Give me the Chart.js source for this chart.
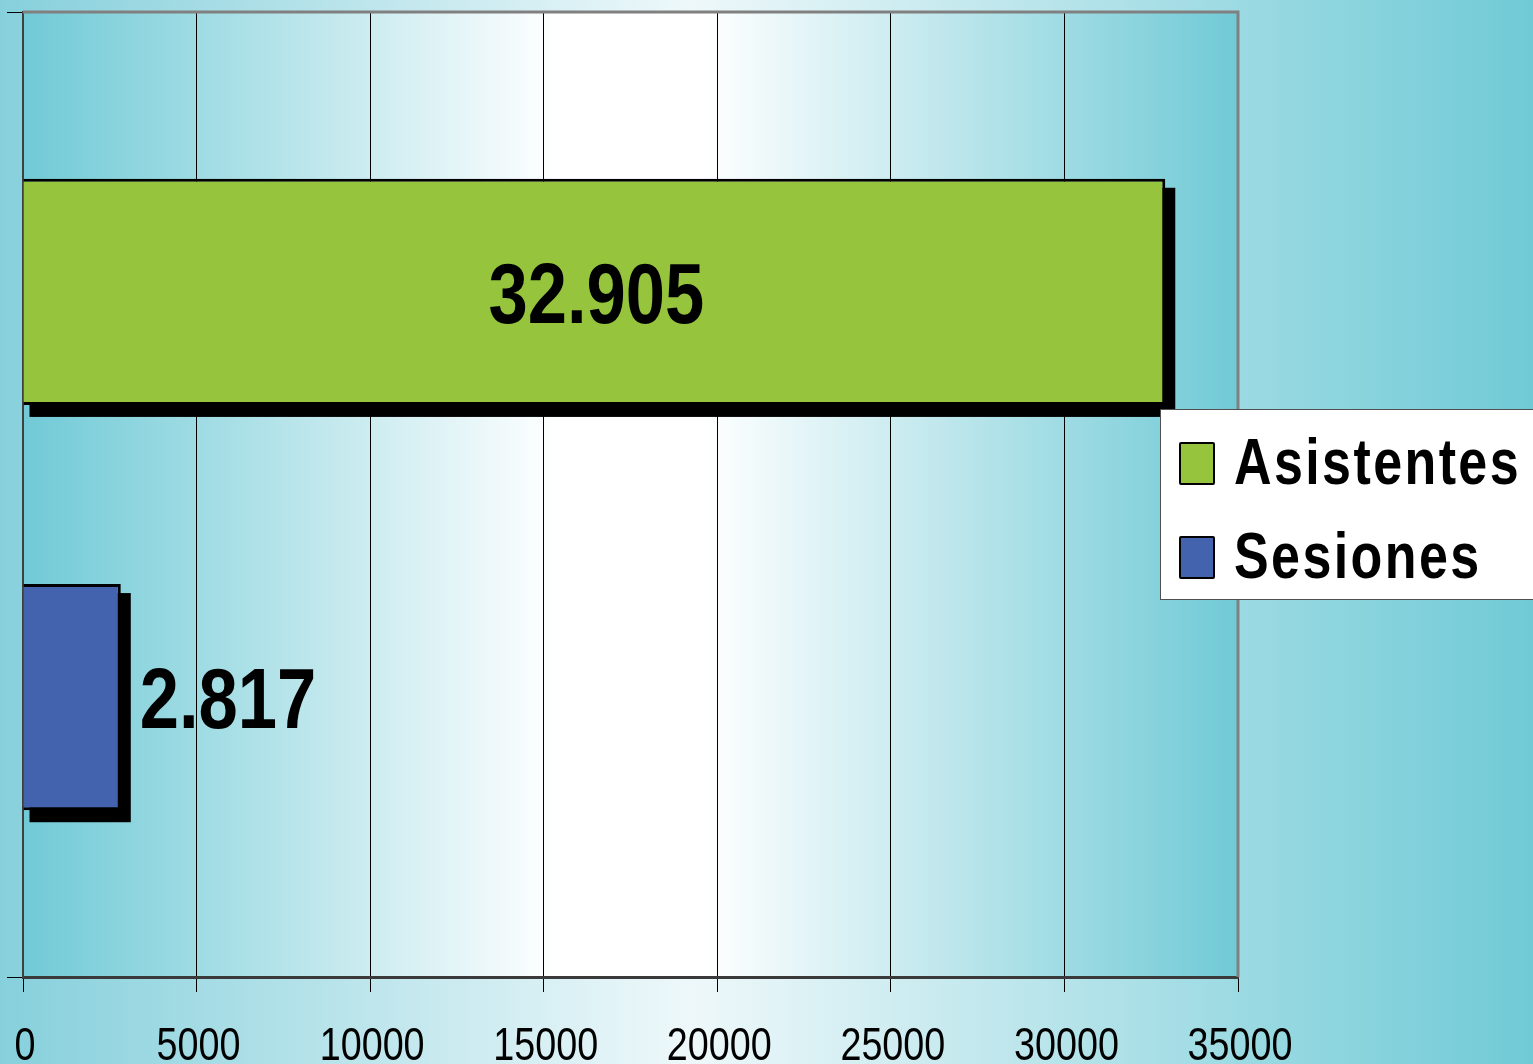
<!DOCTYPE html>
<html>
<head>
<meta charset="utf-8">
<script src="https://cdn.jsdelivr.net/npm/chart.js@4.4.1/dist/chart.umd.min.js"></script>
<style>
    html, body { margin: 0; padding: 0; overflow: hidden; }
    #wrap { position: relative; width: 1533px; height: 1064px; }
    #legend {
        position: absolute; left: 1160px; top: 409px; width: 390px; height: 189px;
        background: #fff; border: 1px solid #505050;
        font-family: 'Liberation Sans', Arial, sans-serif;
        font-weight: bold; font-size: 65px; letter-spacing: 3px; color: #000;
    }
    .sw { position: absolute; left: 18px; width: 36px; height: 43px; box-sizing: border-box;
          border: 2px solid #000; border-radius: 2px; }
    .lbl { position: absolute; left: 73px; line-height: 65px; white-space: nowrap;
           transform: scaleX(0.8); transform-origin: 0 0; }
</style>
</head>
<body>
<div id="wrap">
    <canvas id="chart" width="1533" height="1064"></canvas>
    <div id="legend"></div>
</div>
<script>
// Data
const categories = [''];
const seriesNames = ['Asistentes', 'Sesiones'];
const asistentes = [32905];
const sesiones = [2817];
const seriesColors = ['#96c43c', '#4363ae'];
const tickValues = [0, 5000, 10000, 15000, 20000, 25000, 30000, 35000];

const FONT = "'Liberation Sans', Arial, sans-serif";
const SQUEEZE = 0.82;   // condensed look (Arial Narrow in the original)

function fmt(v) {
    return String(v).replace(/\B(?=(\d{3})+(?!\d))/g, '.');
}

function narrowText(ctx, txt, x, y, align) {
    ctx.save();
    ctx.translate(x, y);
    ctx.scale(SQUEEZE, 1);
    ctx.textAlign = align;
    ctx.fillText(txt, 0, 0);
    ctx.restore();
}

const backdrop = {
    id: 'backdrop',
    beforeDraw(chart) {
        const { ctx, width, height, chartArea: a } = chart;
        ctx.save();
        let g = ctx.createLinearGradient(0, 0, width, 0);
        g.addColorStop(0, '#86d0dc');
        g.addColorStop(0.45, '#eef8fa');
        g.addColorStop(1, '#70cad6');
        ctx.fillStyle = g;
        ctx.fillRect(0, 0, width, height);

        g = ctx.createLinearGradient(a.left, 0, a.right, 0);
        g.addColorStop(0, '#70cad6');
        g.addColorStop(0.44, '#ffffff');
        g.addColorStop(0.56, '#ffffff');
        g.addColorStop(1, '#70cad6');
        ctx.fillStyle = g;
        ctx.fillRect(a.left, a.top, a.right - a.left, a.bottom - a.top);
        ctx.restore();
    },
    beforeDatasetsDraw(chart) {
        const { ctx, chartArea: a } = chart;
        ctx.save();
        ctx.strokeStyle = '#808080';
        ctx.lineWidth = 3;
        ctx.beginPath();
        ctx.moveTo(a.left, a.top);
        ctx.lineTo(a.right, a.top);
        ctx.lineTo(a.right, a.bottom);
        ctx.stroke();

        // black drop shadow behind each bar
        ctx.fillStyle = '#000';
        chart.data.datasets.forEach((ds, i) => {
            chart.getDatasetMeta(i).data.forEach(bar => {
                const top = bar.y - bar.height / 2;
                ctx.fillRect(bar.base + 6, top + 9, bar.x - bar.base + 4, bar.height + 3);
            });
        });
        ctx.restore();
    },
    afterDatasetsDraw(chart) {
        const { ctx } = chart;
        ctx.save();
        ctx.fillStyle = '#000';
        ctx.textBaseline = 'alphabetic';
        ctx.font = 'bold 86px ' + FONT;
        chart.data.datasets.forEach((ds, i) => {
            const bar = chart.getDatasetMeta(i).data[0];
            const txt = fmt(ds.data[0]);
            if (i === 0) {
                narrowText(ctx, txt, (bar.base + bar.x) / 2 + 2, bar.y + 31, 'center');
            } else {
                narrowText(ctx, txt, bar.x + 19, bar.y + 31, 'left');
            }
        });

        // x tick labels
        const x = chart.scales.x;
        ctx.font = '46px ' + FONT;
        tickValues.forEach(v => {
            narrowText(ctx, String(v), x.getPixelForValue(v) + 2, 1060, 'center');
        });
        ctx.restore();
    }
};

new Chart(document.getElementById('chart'), {
    type: 'bar',
    data: {
        labels: categories,
        datasets: [
            {
                label: seriesNames[0],
                data: asistentes,
                backgroundColor: seriesColors[0],
                borderColor: '#000',
                borderWidth: 3,
                categoryPercentage: 0.84,
                barPercentage: 0.558
            },
            {
                label: seriesNames[1],
                data: sesiones,
                backgroundColor: seriesColors[1],
                borderColor: '#000',
                borderWidth: 3,
                categoryPercentage: 0.84,
                barPercentage: 0.558
            }
        ]
    },
    options: {
        indexAxis: 'y',
        responsive: false,
        devicePixelRatio: 1,
        animation: false,
        layout: { padding: { top: 12, right: 295, left: 0, bottom: 0 } },
        plugins: {
            legend: { display: false },
            tooltip: { enabled: false }
        },
        scales: {
            x: {
                min: tickValues[0],
                max: tickValues[tickValues.length - 1],
                afterBuildTicks(scale) {
                    scale.ticks = tickValues.map(v => ({ value: v }));
                },
                afterFit(scale) { scale.height = 87; },
                grid: {
                    color: '#000',
                    lineWidth: 1,
                    tickLength: 15,
                    tickColor: '#000'
                },
                border: { color: '#3a3a3a', width: 3 },
                ticks: { display: false }
            },
            y: {
                afterFit(scale) { scale.width = 23; },
                grid: {
                    drawOnChartArea: false,
                    tickLength: 16,
                    tickColor: '#000'
                },
                border: { color: '#404040', width: 2 },
                ticks: { display: false }
            }
        }
    },
    plugins: [backdrop]
});

// legend
const legend = document.getElementById('legend');
seriesNames.forEach((name, i) => {
    const sw = document.createElement('div');
    sw.className = 'sw';
    sw.style.top = (32 + i * 94) + 'px';
    sw.style.background = seriesColors[i];
    const lbl = document.createElement('div');
    lbl.className = 'lbl';
    lbl.style.top = (19 + i * 94) + 'px';
    lbl.textContent = name;
    legend.appendChild(sw);
    legend.appendChild(lbl);
});
</script>
</body>
</html>
